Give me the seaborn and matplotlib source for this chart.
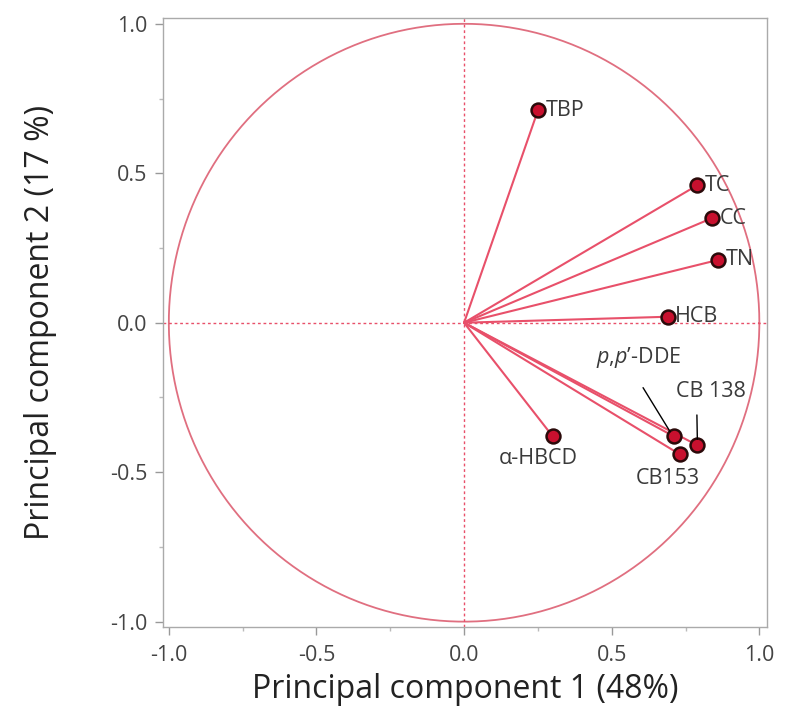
import numpy as np
import pandas as pd
import seaborn as sns
import matplotlib.pyplot as plt

# -------------------------------
# Loadings
# -------------------------------
compounds = ["TBP", "TC", "CC", "TN", "HCB", "p,p'-DDE", "CB 138", "CB153", "α-HBCD"]
pc1 = [0.25, 0.79, 0.84, 0.86, 0.69, 0.71, 0.79, 0.73, 0.30]
pc2 = [0.71, 0.46, 0.35, 0.21, 0.02, -0.38, -0.41, -0.44, -0.38]

df = pd.DataFrame({"compound": compounds, "PC1": pc1, "PC2": pc2})

sns.set_style("white")
plt.rcParams["font.family"] = ["Open Sans", "DejaVu Sans"]
plt.rcParams["mathtext.fontset"] = "custom"
plt.rcParams["mathtext.it"] = "Open Sans:italic"
plt.rcParams["mathtext.rm"] = "Open Sans"
plt.rcParams["axes.unicode_minus"] = False

line_col = "#e8506a"
circle_col = "#e06f80"
text_col = "#3a3a3a"

fig = plt.figure(figsize=(7.87, 7.13), dpi=100)
ax = fig.add_axes([0.207, 0.121, 0.768, 0.854])

# -------------------------------
# Unit circle + zero lines
# -------------------------------
t = np.linspace(0, 2 * np.pi, 400)
ax.plot(np.cos(t), np.sin(t), color=circle_col, lw=1.3, zorder=1)
ax.axhline(0, color=line_col, lw=1, ls=(0, (2, 2)), zorder=1)
ax.axvline(0, color=line_col, lw=1, ls=(0, (2, 2)), zorder=1)

# -------------------------------
# Vectors
# -------------------------------
for _, r in df.iterrows():
    ax.plot([0, r["PC1"]], [0, r["PC2"]], color=line_col, lw=1.5, zorder=2)

sns.scatterplot(data=df, x="PC1", y="PC2", ax=ax, s=100, color="#c8102e",
                edgecolor="#2a0a0a", linewidth=1.8, zorder=3, legend=False)

# -------------------------------
# Labels
# -------------------------------
fs = 15.5
simple = ["TBP", "TC", "CC", "TN", "HCB"]
for _, r in df[df["compound"].isin(simple)].iterrows():
    ax.text(r["PC1"] + 0.025, r["PC2"], r["compound"], fontsize=fs,
            color=text_col, ha="left", va="center")

d = df.set_index("compound")
ax.annotate(r"$\mathit{p}$,$\mathit{p}$’-DDE", xy=(d.loc["p,p'-DDE", "PC1"] - 0.012, d.loc["p,p'-DDE", "PC2"] + 0.015),
            xytext=(0.59, -0.117), fontsize=fs, color=text_col, ha="center", va="center",
            arrowprops=dict(arrowstyle="-", color="black", lw=1, relpos=(0.43, 0),
                            shrinkA=12, shrinkB=0))
ax.annotate("CB 138", xy=(d.loc["CB 138", "PC1"], d.loc["CB 138", "PC2"] + 0.02),
            xytext=(0.835, -0.23), fontsize=fs, color=text_col, ha="center", va="center",
            arrowprops=dict(arrowstyle="-", color="black", lw=1, relpos=(0.3, 0),
                            shrinkA=7, shrinkB=0))
ax.text(0.69, -0.52, "CB153", fontsize=fs, color=text_col, ha="center", va="center")
ax.text(0.25, -0.455, "α-HBCD", fontsize=fs, color=text_col, ha="center", va="center")

# -------------------------------
# Axes styling
# -------------------------------
ax.set_xlim(-1.02, 1.027)
ax.set_ylim(-1.017, 1.02)
ax.set_xticks([-1.0, -0.5, 0.0, 0.5, 1.0])
ax.set_yticks([-1.0, -0.5, 0.0, 0.5, 1.0])
ax.set_xticks(np.arange(-1.0, 1.01, 0.25), minor=True)
ax.set_yticks(np.arange(-1.0, 1.01, 0.25), minor=True)
ax.tick_params(which="major", direction="out", length=6, width=1, color="#999999",
               labelsize=15.5, labelcolor="#444444", bottom=True, left=True)
ax.tick_params(axis="x", which="major", pad=7)
ax.tick_params(axis="y", which="major", pad=5)
ax.tick_params(which="minor", direction="out", length=3, width=1, color="#bbbbbb",
               bottom=True, left=True)
for s in ax.spines.values():
    s.set_color("#aaaaaa")
    s.set_linewidth(1)

ax.set_xlabel("Principal component 1 (48%)", fontsize=23, color="#222222", labelpad=5)
ax.set_ylabel("Principal component 2 (17 %)", fontsize=23, color="#222222", labelpad=38)

plt.savefig("out.png", dpi=100)
